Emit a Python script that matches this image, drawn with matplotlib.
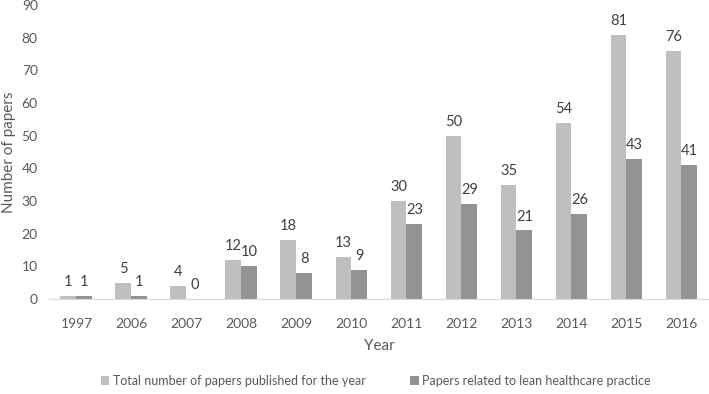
import matplotlib
matplotlib.use("Agg")
import matplotlib.pyplot as plt
import numpy as np

plt.rcParams['font.family'] = ['Lato', 'DejaVu Sans']

years = ["1997", "2006", "2007", "2008", "2009", "2010", "2011", "2012", "2013", "2014", "2015", "2016"]
total = [1, 5, 4, 12, 18, 13, 30, 50, 35, 54, 81, 76]
lean = [1, 1, 0, 10, 8, 9, 23, 29, 21, 26, 43, 41]
series_names = ["Total number of papers published for the year", "Papers related to lean healthcare practice"]

c_light = "#BFBFBF"
c_dark = "#939393"
txt = "#595959"

fig = plt.figure(figsize=(7.09, 3.94), dpi=100)
ax = fig.add_axes([0.069, 0.241, 0.931, 0.746])

x = np.arange(len(years))
w = 0.29
b1 = ax.bar(x - w/2, total, w, color=c_light, label=series_names[0])
b2 = ax.bar(x + w/2, lean, w, color=c_dark, label=series_names[1])

for rects, vals in ((b1, total), (b2, lean)):
    for r, v in zip(rects, vals):
        ax.annotate(str(v), (r.get_x() + r.get_width()/2, v), xytext=(0, 5),
                    textcoords="offset points", ha="center", va="bottom",
                    fontsize=10.5, color="#404040")

ax.set_xlim(-0.5, len(years) - 0.5)
ax.set_ylim(0, 90)
ax.set_yticks(range(0, 91, 10))
ax.set_xticks(x)
ax.set_xticklabels(years)
ax.tick_params(axis='both', length=0, labelsize=10, labelcolor=txt)
ax.tick_params(axis='x', pad=14)
ax.tick_params(axis='y', pad=8)
for s in ("top", "right", "left"):
    ax.spines[s].set_visible(False)
ax.spines["bottom"].set_color("#D9D9D9")
ax.set_xlabel("Year", fontsize=11, color=txt, labelpad=6)
ax.set_ylabel("Number of papers", fontsize=11, color=txt, labelpad=4)

fig.legend(handles=[b1, b2], loc="lower center", bbox_to_anchor=(0.53, -0.01), ncol=2,
           frameon=False, fontsize=9, labelcolor=txt, handlelength=0.7, handleheight=0.7,
           handletextpad=0.3, columnspacing=3.5)

fig.savefig("out.png", dpi=100)
